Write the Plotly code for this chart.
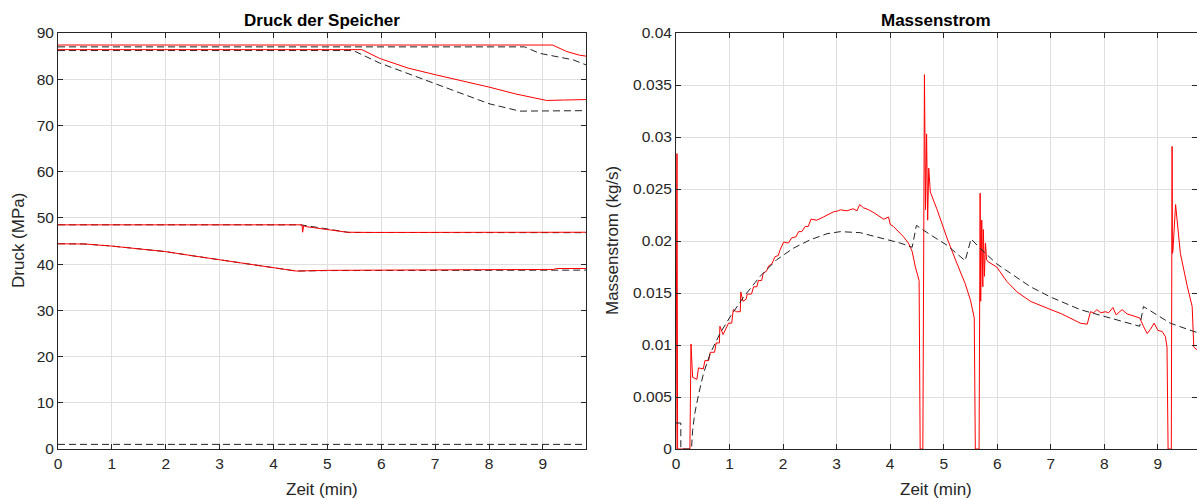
import plotly.graph_objects as go

# ---- Druck der Speicher (MPa) over Zeit (min) ----
# Speicher 1
t_p1_sim = [0.0, 9.18, 9.44, 9.68, 9.8]
p_p1_sim = [87.4, 87.4, 86.0, 85.2, 85.0]
t_p1_ref = [0.0, 8.66, 8.94, 9.56, 9.8]
p_p1_ref = [87.0, 87.0, 85.6, 84.2, 83.1]

# Speicher 2
t_p2_sim = [0.0, 5.64, 5.97, 6.5, 7.03, 7.5, 8.0, 8.5, 9.07, 9.4, 9.8]
p_p2_sim = [86.4, 86.4, 84.5, 82.4, 80.9, 79.7, 78.3, 76.8, 75.4, 75.5, 75.6]
t_p2_ref = [0.0, 5.48, 5.97, 6.5, 7.03, 7.5, 8.0, 8.57, 9.0, 9.8]
p_p2_ref = [86.2, 86.2, 83.5, 81.2, 78.8, 76.9, 74.7, 73.1, 73.1, 73.2]

# Speicher 3
t_p3_sim = [0.0, 4.53, 4.54, 4.56, 4.61, 5.0, 5.36, 5.8, 9.8]
p_p3_sim = [48.5, 48.5, 46.9, 48.3, 48.1, 47.5, 46.9, 46.85, 46.9]
t_p3_ref = [0.0, 4.5, 5.0, 5.4, 9.8]
p_p3_ref = [48.5, 48.5, 47.6, 46.85, 46.8]

# Speicher 4
t_p4_sim = [0.0, 0.5, 1.0, 1.5, 2.0, 2.5, 3.0, 3.5, 4.0, 4.42, 5.0, 6.0, 7.0,
            8.0, 9.2, 9.25, 9.8]
p_p4_sim = [44.4, 44.35, 43.9, 43.35, 42.7, 41.8, 40.9, 40.1, 39.25, 38.5,
            38.65, 38.75, 38.8, 38.8, 38.85, 39.05, 39.05]
t_p4_ref = [0.0, 0.5, 1.0, 1.5, 2.0, 2.5, 3.0, 3.5, 4.0, 4.42, 5.0, 6.0, 9.8]
p_p4_ref = [44.4, 44.35, 43.9, 43.35, 42.7, 41.8, 40.9, 40.1, 39.25, 38.5,
            38.6, 38.65, 38.7]

# Niederdruckniveau
t_p5_ref = [0.0, 9.8]
p_p5_ref = [1.0, 1.0]

# ---- Massenstrom (kg/s) over Zeit (min) ----
t_m_sim = [0.0, 0.018, 0.03, 0.26, 0.28, 0.31, 0.39, 0.42, 0.51, 0.54, 0.61,
           0.64, 0.72, 0.75, 0.81, 0.82, 0.88, 0.95, 0.98, 1.04, 1.07, 1.13,
           1.20, 1.21, 1.25, 1.31, 1.33, 1.41, 1.45, 1.51, 1.54, 1.60, 1.63,
           1.69, 1.73, 1.79, 1.85, 1.91, 1.94, 2.01, 2.10, 2.16, 2.24, 2.29,
           2.35, 2.41, 2.47, 2.52, 2.63, 2.75, 2.85, 2.94, 3.03, 3.07, 3.19,
           3.31, 3.38, 3.43, 3.5, 3.6, 3.7, 3.81, 3.88, 3.97, 4.00, 4.06,
           4.16, 4.25, 4.34, 4.41, 4.47, 4.54, 4.56, 4.61, 4.64, 4.66, 4.68,
           4.70, 4.72, 4.75, 4.87, 5.06, 5.25, 5.40, 5.50, 5.57, 5.59, 5.66,
           5.68, 5.69, 5.71, 5.73, 5.74, 5.76, 5.78, 5.80, 5.83, 5.99, 6.18,
           6.37, 6.62, 6.8, 7.0, 7.2, 7.4, 7.55, 7.68, 7.74, 7.80, 7.86, 7.93,
           8.02, 8.08, 8.16, 8.22, 8.33, 8.42, 8.55, 8.66, 8.73, 8.80, 8.86,
           8.93, 9.00, 9.08, 9.14, 9.17, 9.19, 9.25, 9.265, 9.27, 9.275,
           9.28, 9.33, 9.42, 9.55, 9.64, 9.67, 9.74]
m_sim = [0.0, 0.0284, 0.0, 0.0, 0.0101, 0.0069, 0.0067, 0.0078, 0.0077,
         0.0085, 0.0085, 0.0093, 0.0093, 0.0102, 0.0102, 0.0118, 0.0110,
         0.0118, 0.0121, 0.0121, 0.0134, 0.0132, 0.0132, 0.0151, 0.0142,
         0.0144, 0.0149, 0.0149, 0.0156, 0.0156, 0.0162, 0.0162, 0.0169,
         0.0171, 0.0176, 0.0178, 0.0185, 0.0186, 0.0191, 0.0199, 0.0198,
         0.0203, 0.0204, 0.0209, 0.0209, 0.0214, 0.0214, 0.0221, 0.0220,
         0.0223, 0.0226, 0.0228, 0.0229, 0.0230, 0.0229, 0.0231, 0.0229,
         0.0235, 0.0232, 0.0230, 0.0227, 0.0223, 0.0221, 0.0223, 0.0216,
         0.0214, 0.0209, 0.0204, 0.0198, 0.0190, 0.0175, 0.0162, 0.0, 0.0,
         0.0360, 0.0230, 0.0303, 0.0220, 0.0270, 0.0247, 0.0231, 0.0203,
         0.0178, 0.0159, 0.0143, 0.0126, 0.0, 0.0, 0.0246, 0.0142, 0.0220,
         0.0156, 0.0211, 0.0166, 0.0198, 0.0182, 0.0180, 0.0175, 0.0161,
         0.0151, 0.0142, 0.0138, 0.0134, 0.0130, 0.0125, 0.0121, 0.0120,
         0.0132, 0.0131, 0.0134, 0.0131, 0.0132, 0.0131, 0.0136, 0.0129,
         0.0134, 0.0130, 0.0128, 0.0126, 0.0118, 0.0111, 0.0115, 0.0121,
         0.0114, 0.0113, 0.0108, 0.0098, 0.0, 0.0, 0.0291, 0.0188, 0.0291,
         0.0190, 0.0235, 0.0188, 0.0156, 0.0137, 0.0098, 0.0095]

t_m_ref = [0.0, 0.09, 0.09, 0.29, 0.31, 0.35, 0.42, 0.51, 0.64, 0.82, 1.01,
           1.26, 1.57, 1.88, 2.19, 2.50, 2.82, 3.07, 3.44, 3.81, 4.19, 4.41,
           4.49, 4.75, 5.06, 5.40, 5.51, 5.68, 5.99, 6.62, 7.0, 7.55, 8.66,
           8.73, 9.23, 9.67, 9.74]
m_ref = [0.0025, 0.0025, 0.0, 0.0, 0.0018, 0.0034, 0.0052, 0.0072, 0.0092,
         0.0111, 0.0127, 0.0146, 0.0166, 0.0182, 0.0193, 0.0201, 0.0207,
         0.0209, 0.0208, 0.0203, 0.0198, 0.0194, 0.0215, 0.0206, 0.0196,
         0.0181, 0.0202, 0.0193, 0.0178, 0.0156, 0.0146, 0.0134, 0.0118,
         0.0137, 0.0121, 0.0113, 0.0112]

x_ticks = list(range(0, 10))
p_ticks = list(range(0, 100, 10))
m_ticks = [0, 0.005, 0.01, 0.015, 0.02, 0.025, 0.03, 0.035, 0.04]
m_tick_text = ["0", "0.005", "0.01", "0.015", "0.02", "0.025", "0.03",
               "0.035", "0.04"]

W, H = 1197, 499
SIM = dict(color="rgb(255,0,0)", width=1)
REF = dict(color="rgb(35,35,35)", width=1, dash="7px,4px")
FONT = "Liberation Sans, Arial, Helvetica, sans-serif"
INK = "rgb(38,38,38)"
GRID = "rgb(223,223,223)"

fig = go.Figure()


def add(x, y, line, xa, ya):
    fig.add_trace(go.Scatter(x=x, y=y, mode="lines", line=line,
                             xaxis=xa, yaxis=ya, showlegend=False,
                             hoverinfo="skip"))


# Left panel: reference (dashed) under simulation (red)
for tx, py in [(t_p1_ref, p_p1_ref), (t_p2_ref, p_p2_ref),
               (t_p3_ref, p_p3_ref), (t_p4_ref, p_p4_ref),
               (t_p5_ref, p_p5_ref)]:
    add(tx, py, REF, "x", "y")
for tx, py in [(t_p1_sim, p_p1_sim), (t_p2_sim, p_p2_sim),
               (t_p3_sim, p_p3_sim), (t_p4_sim, p_p4_sim)]:
    add(tx, py, SIM, "x", "y")

# Right panel
add(t_m_sim, m_sim, SIM, "x2", "y2")
add(t_m_ref, m_ref, REF, "x2", "y2")

y_dom = [1 - 449 / H, 1 - 33 / H]
xd1 = [58 / W, 586 / W]
xd2 = [676 / W, 1.0]

axis_common = dict(showline=True, linecolor=INK, linewidth=1, mirror="ticks",
                   ticks="inside", ticklen=5, tickcolor=INK, tickwidth=1,
                   showgrid=True, gridcolor=GRID, gridwidth=1,
                   zeroline=False, automargin=False,
                   tickfont=dict(family=FONT, size=15.5, color=INK))

fig.update_layout(
    width=W, height=H,
    margin=dict(l=0, r=0, t=0, b=0, autoexpand=False),
    paper_bgcolor="white", plot_bgcolor="white",
    xaxis=dict(domain=xd1, range=[0, 9.8], tickvals=x_ticks, anchor="y",
               **axis_common),
    yaxis=dict(domain=y_dom, range=[0, 90], tickvals=p_ticks, anchor="x",
               **axis_common),
    xaxis2=dict(domain=xd2, range=[0, 9.73], tickvals=x_ticks, anchor="y2",
                **axis_common),
    yaxis2=dict(domain=y_dom, range=[0, 0.04], tickvals=m_ticks,
                ticktext=m_tick_text, anchor="x2", **axis_common),
)

label_font = dict(family=FONT, size=17, color=INK)
title_font = dict(family=FONT, size=17, color="black")


def px_x(px):
    return px / W


def px_y(py):
    return 1 - py / H


annotations = [
    dict(text="<b>Druck der Speicher</b>", x=px_x(322), y=px_y(20),
         font=title_font),
    dict(text="<b>Massenstrom</b>", x=px_x(936), y=px_y(20), font=title_font),
    dict(text="Zeit (min)", x=px_x(322), y=px_y(489), font=label_font),
    dict(text="Zeit (min)", x=px_x(936), y=px_y(489), font=label_font),
    dict(text="Druck (MPa)", x=px_x(19), y=px_y(241), font=label_font,
         textangle=-90),
    dict(text="Massenstrom (kg/s)", x=px_x(613), y=px_y(241),
         font=label_font, textangle=-90),
]
for a in annotations:
    a.update(xref="paper", yref="paper", showarrow=False,
             xanchor="center", yanchor="middle")
fig.update_layout(annotations=annotations)

fig.write_html("out.html")
